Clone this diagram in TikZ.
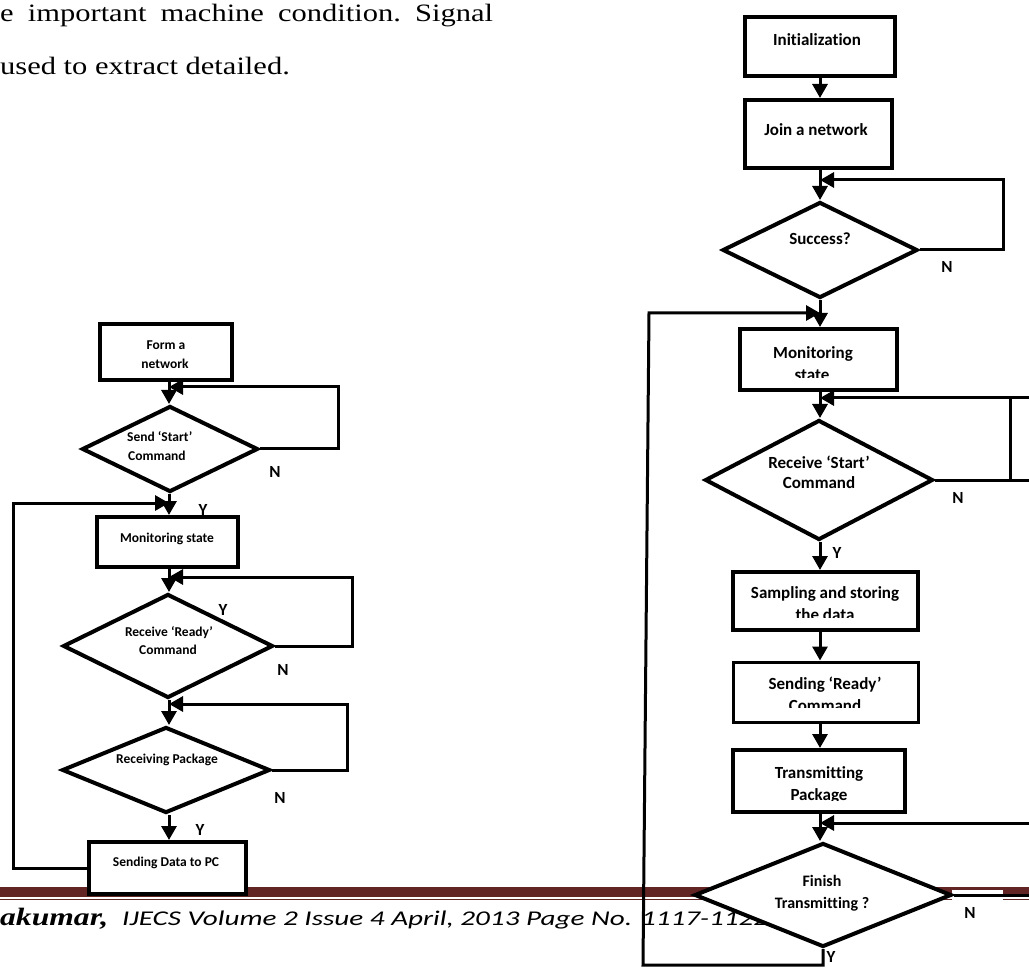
\documentclass[tikz,border=0pt]{standalone}
\usepackage{fontspec}
\usepackage{graphicx}
\setmainfont{Liberation Serif}
\newfontfamily\calfont[Ligatures=NoCommon]{Carlito}
\usetikzlibrary{arrows.meta,shapes.geometric}
\definecolor{footred}{RGB}{99,37,35}
\newcommand{\bodyw}[1]{\scalebox{1.22}[1]{\fontsize{25}{30}\selectfont #1}}
\begin{document}
\begin{tikzpicture}[x=1pt,y=-1pt,
  boxs/.style={draw, line width=4pt, fill=white, rectangle, inner sep=0pt},
  dias/.style={draw, line width=4pt, fill=white, diamond, inner sep=0pt},
  conn/.style={line width=3pt},
  arr/.style={line width=3pt, -{Triangle[length=14pt,width=15pt]}},
  lr/.style={font=\calfont\bfseries\fontsize{17}{20}\selectfont, inner sep=0pt, text height=11pt, text depth=0pt},
  ll/.style={font=\calfont\bfseries\fontsize{13.5}{16}\selectfont, inner sep=0pt, text height=8.8pt, text depth=0pt},
  yn/.style={font=\calfont\bfseries\fontsize{17}{20}\selectfont, inner sep=0pt, text height=11pt, text depth=0pt},
  body/.style={inner sep=0pt, anchor=base west},
  mask/.style={fill=white, draw=none}]
\useasboundingbox (0,0) rectangle (1029,968);
\fill[white] (0,0) rectangle (1029,968);

% body text
\node[body] (w1) at (0,22) {\bodyw{e}};
\node[body] (w2) at (27.7,22) {\bodyw{important}};
\node[body] (w3) at (160.5,22) {\bodyw{machine}};
\node[body] (w4) at (278,22) {\bodyw{condition.}};
\node[body] (w5) at (415,22) {\bodyw{Signal}};
\node[body] (w6) at (0,75) {\bodyw{used to extract detailed.}};

% footer band
\fill[footred] (0,887) rectangle (1029,897);
\draw[footred, line width=1.6pt] (0,899.5) -- (1029,899.5);
\fill[white] (952,889.5) rectangle (1003,902);
\node[inner sep=0pt, anchor=base west] (f1) at (0,925) {\resizebox{108pt}{\height}{\fontsize{25}{30}\selectfont\bfseries\itshape akumar,}};
\node[inner sep=0pt, anchor=base west] (f2) at (122,925) {\resizebox{646pt}{\height}{\calfont\itshape\fontsize{21}{25}\selectfont IJECS Volume 2 Issue 4 April, 2013 Page No. 1117-1122}};

% column coordinates
\coordinate (colR) at (820,0);
\coordinate (colL) at (169,0);

% ---------- right chart ----------
\node[boxs, minimum width=150pt, minimum height=59pt] (init) at (820,46.5) {};
\node[boxs, minimum width=147pt, minimum height=68pt] (join) at (818.5,134) {};
\node[dias, minimum width=195pt, minimum height=96pt] (succ) at (820,250) {};
\node[boxs, minimum width=157pt, minimum height=61pt] (monR) at (818.5,359.5) {};
\node[dias, minimum width=228pt, minimum height=120pt] (rstart) at (819,480) {};
\node[boxs, minimum width=185pt, minimum height=58pt] (samp) at (825.5,601) {};
\node[boxs, minimum width=185pt, minimum height=60pt, line width=3pt] (sready) at (825.5,692) {};
\node[boxs, minimum width=172pt, minimum height=62pt] (trans) at (819,781) {};
\node[dias, minimum width=257pt, minimum height=104pt] (finish) at (823,895) {};

\node[lr] (tinit) at (817,40) {Initialization};
\node[lr] (tjoin) at (816,130) {Join a network};
\node[lr] (tsucc) at (820,239) {Success?};
\node[lr] (tmon1) at (813,353) {Monitoring};
\node[lr] (tmon2) at (812,375) {state};
\node[lr] (trs1) at (819,463) {Receive ‘Start’};
\node[lr] (trs2) at (819,483) {Command};
\node[lr] (tsa1) at (825,593) {Sampling and storing};
\node[lr] (tsa2) at (825,615) {the data};
\node[lr] (tsr1) at (825,684) {Sending ‘Ready’};
\node[lr] (tsr2) at (825,706) {Command};
\node[lr] (ttr1) at (819,773) {Transmitting};
\node[lr] (ttr2) at (819,795) {Package};
\node[lr, font=\calfont\bfseries\fontsize{16}{19}\selectfont] (tfi1) at (822,881) {Finish};
\node[lr, font=\calfont\bfseries\fontsize{16}{19}\selectfont] (tfi2) at (822,903) {Transmitting ?};

% clipped bottoms of text boxes
\fill[mask] (743,378.5) rectangle (894,386.5);
\fill[mask] (736,618) rectangle (915,627);
\fill[mask] (735,708) rectangle (916,720);
\fill[mask] (735,800.5) rectangle (903,808);

% right connectors
\draw[arr] (init.south -| colR) -- (join.north -| colR);
\draw[arr] (join.south -| colR) -- (succ.north -| colR);
\draw[arr] (succ.south -| colR) -- (monR.north -| colR);
\draw[arr] (monR.south -| colR) -- (rstart.north -| colR);
\draw[arr] (rstart.south -| colR) -- (samp.north -| colR);
\draw[arr] (samp.south -| colR) -- (sready.north -| colR);
\draw[arr] (sready.south -| colR) -- (trans.north -| colR);
\draw[arr] (trans.south -| colR) -- (finish.north -| colR);

\coordinate (r1) at (1003,180);
\draw[arr] (succ.east) -| (r1) -- (r1 -| colR);
\coordinate (r2a) at (1029,480);
\coordinate (r2b) at (1010,480);
\coordinate (r2c) at (1010,398);
\coordinate (r2d) at (1029,398);
\draw[conn] (rstart.east) -- (r2a);
\draw[conn] (r2b) -- (r2c);
\draw[arr] (r2d) -- (r2d -| colR);
\coordinate (r3a) at (1029,895);
\coordinate (r3b) at (1029,823);
\draw[conn] (finish.east) -- (r3a);
\draw[arr] (r3b) -- (r3b -| colR);
\coordinate (r4a) at (643,965);
\coordinate (r4b) at (649,313);
\draw[arr] (finish.south) |- (r4a) -- (r4b) -- (r4b -| colR);

\node[yn] (n1) at (947,267) {N};
\node[yn] (n2) at (958,498) {N};
\node[yn] (y1) at (837,553) {Y};
\node[yn] (n3) at (970,913) {N};
\node[yn] (y2) at (831,957) {Y};

% ---------- left chart ----------
\node[boxs, minimum width=132pt, minimum height=56pt] (form) at (166,352) {};
\node[dias, minimum width=176pt, minimum height=86pt] (sstart) at (170,449) {};
\node[boxs, minimum width=141pt, minimum height=50pt] (monL) at (167.5,542) {};
\node[dias, minimum width=210pt, minimum height=104pt] (rready) at (168,646) {};
\node[dias, minimum width=208pt, minimum height=86pt] (rpack) at (166,770) {};
\node[boxs, minimum width=157pt, minimum height=52pt] (sdata) at (167.5,868) {};

\node[ll] (tf1) at (166,345) {Form a};
\node[ll] (tf2) at (165,364) {network};
\node[ll, anchor=west] (tss1) at (127,437) {Send ‘Start’};
\node[ll, anchor=west] (tss2) at (128,456) {Command};
\node[ll] (tml) at (167,538) {Monitoring state};
\node[ll] (trr1) at (169,632) {Receive ‘Ready’};
\node[ll] (trr2) at (168,650) {Command};
\node[ll] (trp) at (167,759) {Receiving Package};
\node[ll] (tsd) at (166,862) {Sending Data to PC};

\draw[arr] (form.south -| colL) -- (sstart.north -| colL);
\draw[arr] (sstart.south -| colL) -- (monL.north -| colL);
\draw[arr] (monL.south -| colL) -- (rready.north -| colL);
\draw[arr] (rready.south -| colL) -- (rpack.north -| colL);
\draw[arr] (rpack.south -| colL) -- (sdata.north -| colL);

\coordinate (l1) at (338,387);
\draw[arr] (sstart.east) -| (l1) -- (l1 -| colL);
\coordinate (l2) at (352,577);
\draw[arr] (rready.east) -| (l2) -- (l2 -| colL);
\coordinate (l3) at (347,704);
\draw[arr] (rpack.east) -| (l3) -- (l3 -| colL);
\coordinate (l4) at (13,503);
\draw[arr] (sdata.west) -| (l4) -- (l4 -| colL);

\node[yn] (ln1) at (275,472) {N};
\node[yn] (ly1) at (203,510) {Y};
\node[yn] (ly2) at (223,610) {Y};
\node[yn] (ln2) at (283,670) {N};
\node[yn] (ln3) at (280,798) {N};
\node[yn] (ly3) at (200,830) {Y};
\end{tikzpicture}
\end{document}
